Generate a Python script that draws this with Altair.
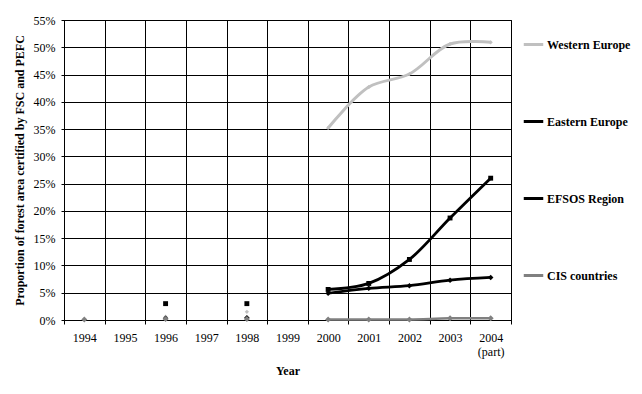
import altair as alt
import pandas as pd

years = ["1994", "1995", "1996", "1997", "1998", "1999", "2000", "2001", "2002", "2003", "2004"]
series_names = ["Western Europe", "Eastern Europe", "EFSOS Region", "CIS countries"]
western = [None, None, 0.6, None, 1.5, None, 35.2, 42.7, 45.1, 50.6, 50.9]
eastern = [None, None, 3.0, None, 3.0, None, 5.6, 6.7, 11.1, 18.7, 26.0]
efsos = [None, None, 0.3, None, 0.4, None, 4.9, 5.8, 6.3, 7.3, 7.8]
cis = [0.1, None, 0.2, None, 0.2, None, 0.1, 0.1, 0.1, 0.3, 0.3]
colors = ["#c0c0c0", "#000000", "#000000", "#808080"]
shapes = ["diamond", "square", "diamond", "diamond"]
widths = [3, 2.5, 2.5, 3]
sizes = [18, 36, 16, 16]

rows = []
for name, vals in zip(series_names, [western, eastern, efsos, cis]):
    for yr, v in zip(years, vals):
        rows.append({"year": yr, "series": name, "value": v})
df = pd.DataFrame(rows)

FONT = "Times New Roman, Liberation Serif, serif"

x_enc = alt.X(
    "year:O",
    sort=years,
    scale=alt.Scale(domain=years, paddingInner=0, paddingOuter=0),
    axis=alt.Axis(
        title="Year",
        labelAngle=0,
        grid=True,
        tickBand="extent",
        gridColor="black",
        gridOpacity=1,
        domainColor="black",
        tickColor="black",
        tickSize=4,
        labelPadding=8,
        labelExpr="datum.label == '2004' ? ['2004', '(part)'] : datum.label",
        labelFont=FONT,
        labelFontSize=12,
        labelColor="black",
        titleFont=FONT,
        titleFontSize=12,
        titleFontWeight="bold",
        titleColor="black",
        titlePadding=8,
    ),
)
y_enc = alt.Y(
    "value:Q",
    scale=alt.Scale(domain=[0, 55], nice=False),
    axis=alt.Axis(
        values=list(range(0, 56, 5)),
        labelExpr="datum.value + '%'",
        title="Proportion of forest area certified by FSC and PEFC",
        grid=True,
        gridColor="black",
        gridOpacity=1,
        domainColor="black",
        tickColor="black",
        tickSize=3,
        labelPadding=6,
        labelFont=FONT,
        labelFontSize=12,
        labelColor="black",
        titleFont=FONT,
        titleFontSize=12,
        titleFontWeight="bold",
        titleColor="black",
        titlePadding=7,
    ),
)
color_enc = alt.Color(
    "series:N",
    scale=alt.Scale(domain=series_names, range=colors),
    legend=alt.Legend(
        title=None,
        orient="none",
        legendX=458,
        legendY=13,
        symbolType="stroke",
        symbolStrokeWidth=3,
        symbolSize=380,
        rowPadding=59,
        labelFont=FONT,
        labelFontSize=12,
        labelFontWeight="bold",
        labelColor="black",
        labelOffset=2,
    ),
)

lines = (
    alt.Chart(df)
    .transform_filter("datum.value != null && toNumber(datum.year) >= 2000")
    .mark_line(interpolate="catmull-rom")
    .encode(
        x=x_enc,
        y=y_enc,
        color=color_enc,
        strokeWidth=alt.StrokeWidth("series:N", scale=alt.Scale(domain=series_names, range=widths), legend=None),
    )
)
points = (
    alt.Chart(df)
    .transform_filter("datum.value != null")
    .mark_point(filled=True, opacity=1)
    .encode(
        x=x_enc,
        y=y_enc,
        color=alt.Color("series:N", scale=alt.Scale(domain=series_names, range=colors), legend=None),
        shape=alt.Shape("series:N", scale=alt.Scale(domain=series_names, range=shapes), legend=None),
        size=alt.Size("series:N", scale=alt.Scale(domain=series_names, range=sizes), legend=None),
    )
)

chart = (
    alt.layer(lines, points)
    .resolve_scale(color="independent")
    .properties(
        width=447,
        height=300,
        autosize=alt.AutoSizeParams(type="none"),
        padding={"left": 56, "top": 12, "right": 123, "bottom": 66},
        background="white",
    )
    .configure(font=FONT)
    .configure_view(stroke="black", strokeWidth=1)
)

chart.save("out.html", embed_options={"renderer": "svg", "actions": False})
